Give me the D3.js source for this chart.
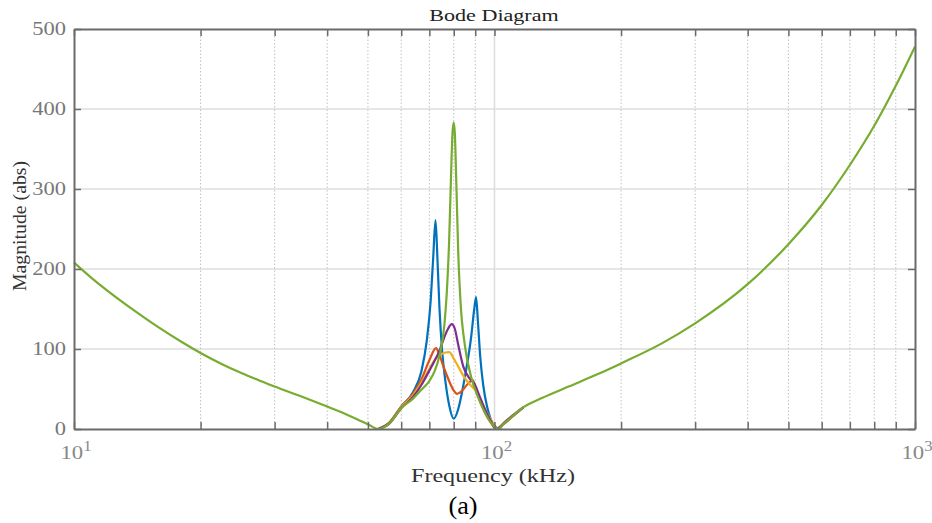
<!DOCTYPE html>
<html><head><meta charset="utf-8">
<script src="https://cdn.jsdelivr.net/npm/d3@7"></script>
<style>body{margin:0;background:#fff}svg{display:block}</style>
</head><body>
<svg id="c" width="932" height="523"></svg>
<script>
// ---- data ----
const greenF = [10,11,12,14,16,18,20,22.5,25,27.5,30,35,40,45,50,52.9,56,60,64,67,70,72,74,76,77,78,78.8,79.5,80,80.5,81.2,82,83,85,88,91,95,98,100,102,105,110,117,130,150,175,200,250,300,400,500,600,700,800,900,1000];
const greenV = [208,189,173,147,126,109,95,81,70,61,53,40,28,17,6,0,6,26,38,49,60,72,92,130,170,235,315,372,383,368,300,220,160,105,65,42,20,8,3,0,6,15,27,39,53,68,82,107,132,181,231,280,330,379,429,478];

const blueF = [52.9,56,60,64,67,69,70.5,71.5,72.4,73.2,74,75,76.5,78,80,82,84,86,88,89.5,90.4,91.3,92.5,94,96,98,100,102.5,105,110,117];
const blueV = [0,7,28,46,72,110,160,215,261,210,150,100,58,30,13,25,50,80,115,150,165,135,90,55,28,12,4,0,7,16,27];

const orangeF = [52.9,56,60,64,67,70,72.6,74,76,78,80,81.5,83,85,87,88.7,90,92,95,98,101,105,110,117];
const orangeV = [0,7,28,44,62,86,101,92,75,60,48,44,46,52,58,61,52,38,20,8,0,7,16,27];

const yellowF = [52.9,56,60,64,67,70,72,74,75.7,78.1,80,82,84,86,88,90,93,96,99,101,105,110,117];
const yellowV = [0,6,27,42,58,75,86,92,95,96,88,78,68,60,54,49,35,20,8,0,6,15,27];

const purpleF = [52.9,56,60,64,67,70,72,74,76,77.5,79.1,80.5,82,84.3,87,89.5,92,95,98,101,105,110,117];
const purpleV = [0,6,26,40,55,73,85,98,115,125,131,125,105,78,64,57,42,24,10,0,6,15,27];

const seriesColors = ["#0072BD","#D95319","#EDB120","#7E2F8E","#77AC30"];
const yTicks = [0,100,200,300,400,500];
const xMajor = [10,100,1000];
const xMinor = [20,30,40,50,60,70,80,90,200,300,400,500,600,700,800,900];
const xExp = ["1","2","3"];

// ---- chart ----
const svg = d3.select("#c");
const L=74,R=915,T=29,B=429;
const x = d3.scaleLog().domain([10,1000]).range([L,R]);
const y = d3.scaleLinear().domain([0,500]).range([B,T]);
const serif = "'Liberation Serif','Times New Roman',serif";

// grid
const g = svg.append("g");
g.selectAll("line.hg").data(yTicks.slice(1,5)).join("line")
 .attr("x1",L).attr("x2",R).attr("y1",d=>y(d)).attr("y2",d=>y(d))
 .attr("stroke","#dedede").attr("stroke-width",1.5);
g.selectAll("line.vm").data(xMinor).join("line")
 .attr("x1",d=>x(d)).attr("x2",d=>x(d)).attr("y1",T).attr("y2",B)
 .attr("stroke","#c0c0c0").attr("stroke-width",1).attr("stroke-dasharray","1.5,2");
g.selectAll("line.vM").data([100]).join("line")
 .attr("x1",d=>x(d)).attr("x2",d=>x(d)).attr("y1",T).attr("y2",B)
 .attr("stroke","#dcdcdc").attr("stroke-width",1.5);

// series
const line = d3.line().x(d=>x(d[0])).y(d=>y(d[1])).curve(d3.curveMonotoneX);
const series = [[blueF,blueV],[orangeF,orangeV],[yellowF,yellowV],[purpleF,purpleV],[greenF,greenV]];
series.forEach((s,i)=>{
  svg.append("path").datum(s[0].map((f,j)=>[f,s[1][j]]))
   .attr("d",line).attr("fill","none").attr("stroke",seriesColors[i])
   .attr("stroke-width",2.2).attr("stroke-linejoin","round");
});

// axes (box with inward ticks)
const axCol="#6b6b6b";
const allX = xMajor.concat(xMinor);
const mkAx = (gen)=>gen.tickSizeInner(-7).tickSizeOuter(0).tickFormat("");
const axB = svg.append("g").attr("transform",`translate(0,${B})`).call(mkAx(d3.axisBottom(x).tickValues(allX)));
const axT = svg.append("g").attr("transform",`translate(0,${T})`).call(mkAx(d3.axisTop(x).tickValues(allX)));
const axL = svg.append("g").attr("transform",`translate(${L},0)`).call(mkAx(d3.axisLeft(y).tickValues(yTicks)));
const axR = svg.append("g").attr("transform",`translate(${R},0)`).call(mkAx(d3.axisRight(y).tickValues(yTicks)));
[axB,axT,axL,axR].forEach(a=>{
  a.selectAll("path").attr("stroke",axCol).attr("stroke-width",2);
  a.selectAll("line").attr("stroke",axCol).attr("stroke-width",1.5);
});

// y tick labels
svg.selectAll("text.yl").data(yTicks).join("text")
 .attr("transform",d=>`translate(66,${y(d)+6}) scale(1.25,1)`)
 .attr("text-anchor","end").attr("font-family",serif).attr("font-size",18)
 .attr("fill","#777").text(d=>d);

// x tick labels 10^n
xMajor.forEach((v,i)=>{
  const t = svg.append("text").attr("transform",`translate(${x(v)+2},459) scale(1.2,1)`)
   .attr("text-anchor","middle").attr("font-family",serif).attr("font-size",19).attr("fill","#888");
  t.append("tspan").text("10");
  t.append("tspan").attr("dy",-8).attr("font-size",14).text(xExp[i]);
});

// titles
svg.append("text").attr("transform","translate(494,21) scale(1.3,1)").attr("text-anchor","middle")
 .attr("font-family",serif).attr("font-size",17).attr("fill","#222").text("Bode Diagram");
svg.append("text").attr("transform","translate(493,482) scale(1.27,1)").attr("text-anchor","middle")
 .attr("font-family",serif).attr("font-size",19).attr("fill","#333").text("Frequency  (kHz)");
svg.append("text").attr("transform","translate(26,226) rotate(-90) scale(1.1,1)").attr("text-anchor","middle")
 .attr("font-family",serif).attr("font-size",18).attr("fill","#333").text("Magnitude (abs)");
svg.append("text").attr("transform","translate(463,514) scale(1.05,1)").attr("text-anchor","middle")
 .attr("font-family",serif).attr("font-size",25).attr("fill","#000").text("(a)");
</script>
</body></html>
